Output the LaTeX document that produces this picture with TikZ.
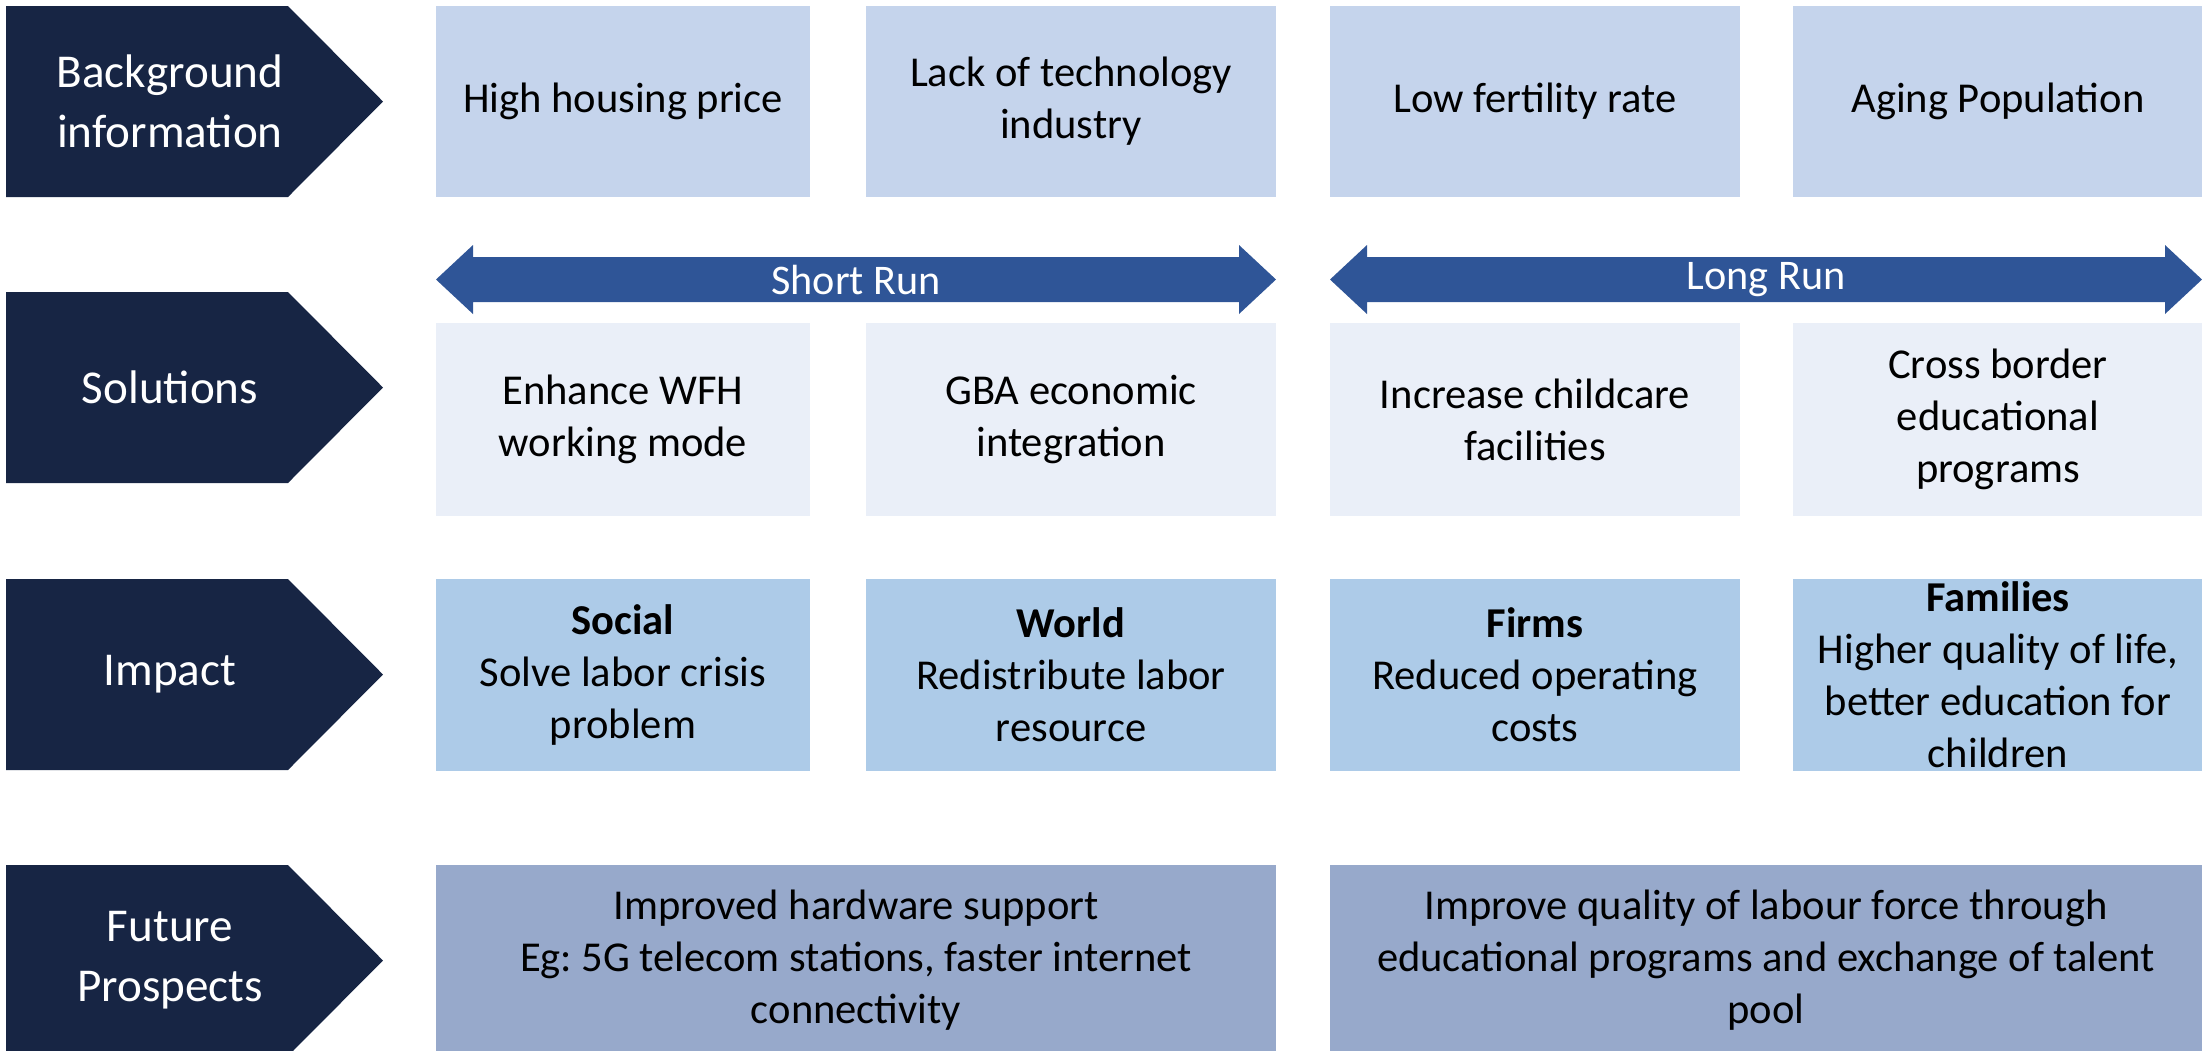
\documentclass[tikz,border=0pt]{standalone}
\usepackage{fontspec}
\setmainfont{Carlito}
\frenchspacing
\usetikzlibrary{positioning}
\definecolor{navy}{HTML}{172544}
\definecolor{bgblue}{HTML}{C5D4EC}
\definecolor{solblue}{HTML}{EAEFF8}
\definecolor{impblue}{HTML}{ADCBE8}
\definecolor{futblue}{HTML}{97A9CB}
\definecolor{runblue}{HTML}{2F5597}

\begin{document}
\begin{tikzpicture}
  [x=0.01cm,y=-0.01cm,
   every node/.style={font=\fontsize{12.1}{14.8}\selectfont,align=center,inner sep=0pt},
   narrow/.style={minimum width=3.74cm},
   wide/.style={minimum width=4.10cm},
   bgcell/.style={fill=bgblue,minimum height=1.91cm},
   solcell/.style={fill=solblue,minimum height=1.93cm},
   impcell/.style={fill=impblue,minimum height=1.92cm},
   futcell/.style={fill=futblue,minimum height=1.91cm},
   stagelabel/.style={text=white,font=\fontsize{13.4}{17.1}\selectfont},
   runlabel/.style={text=white,font=\fontsize{12}{14}\selectfont}]
  \useasboundingbox (0,0) rectangle (2202,1050);

  \foreach \t/\txt [count=\i] in {6/{Background\\information},292/Solutions,579/Impact,865/{Future\\Prospects}}
  {
    \fill[navy] (6,\t) -- (288,\t) -- (383,\t+95.5) -- (288,\t+191) -- (6,\t+191) -- cycle;
    \node[stagelabel] (stage\i) at (170,\t+95.5) {\txt};
  }

  \node[bgcell,narrow] (bg1) at (623,101.5)  {High housing price};
  \node[bgcell,wide]   (bg2) at (1071,101.5) {Lack of technology\\industry};
  \node[bgcell,wide]   (bg3) at (1535,101.5) {Low fertility rate};
  \node[bgcell,wide]   (bg4) at (1998,101.5) {Aging Population};

  \foreach \xa/\xb/\run [count=\i] in {436/1276/Short Run,1330/2202/Long Run}
  {
    \fill[runblue] (\xa,279.5) -- (\xa+37,245) -- (\xa+37,257) -- (\xb-37,257) -- (\xb-37,245)
      -- (\xb,279.5) -- (\xb-37,314) -- (\xb-37,302) -- (\xa+37,302) -- (\xa+37,314) -- cycle;
    \node[runlabel] (run\i) at ({(\xa+\xb)/2},280) {\run};
  }

  \node[solcell,narrow] (sol1) at (623,419.5)  {Enhance WFH\\working mode};
  \node[solcell,wide]   (sol2) at (1071,419.5) {GBA economic\\integration};
  \node[solcell,wide]   (sol3) at (1535,419.5) {Increase childcare\\facilities};
  \node[solcell,wide]   (sol4) at (1998,419.5) {Cross border\\educational\\programs};

  \node[impcell,narrow] (imp1) at (623,675)  {\textbf{Social}\\Solve labor crisis\\problem};
  \node[impcell,wide]   (imp2) at (1071,675) {\textbf{World}\\Redistribute labor\\resource};
  \node[impcell,wide]   (imp3) at (1535,675) {\textbf{Firms}\\Reduced operating\\costs};
  \node[impcell,wide]   (imp4) at (1998,675) {};
  \node (imp4text) at (imp4.center) {\textbf{Families}\\Higher quality of life,\\better education for\\children};

  \node[futcell,minimum width=8.40cm] (fut1) at (856,960.5)  {Improved hardware support\\Eg: 5G telecom stations, faster internet\\connectivity};
  \node[futcell,minimum width=8.72cm] (fut2) at (1766,960.5) {Improve quality of labour force through\\educational programs and exchange of talent\\pool};

\end{tikzpicture}
\end{document}
